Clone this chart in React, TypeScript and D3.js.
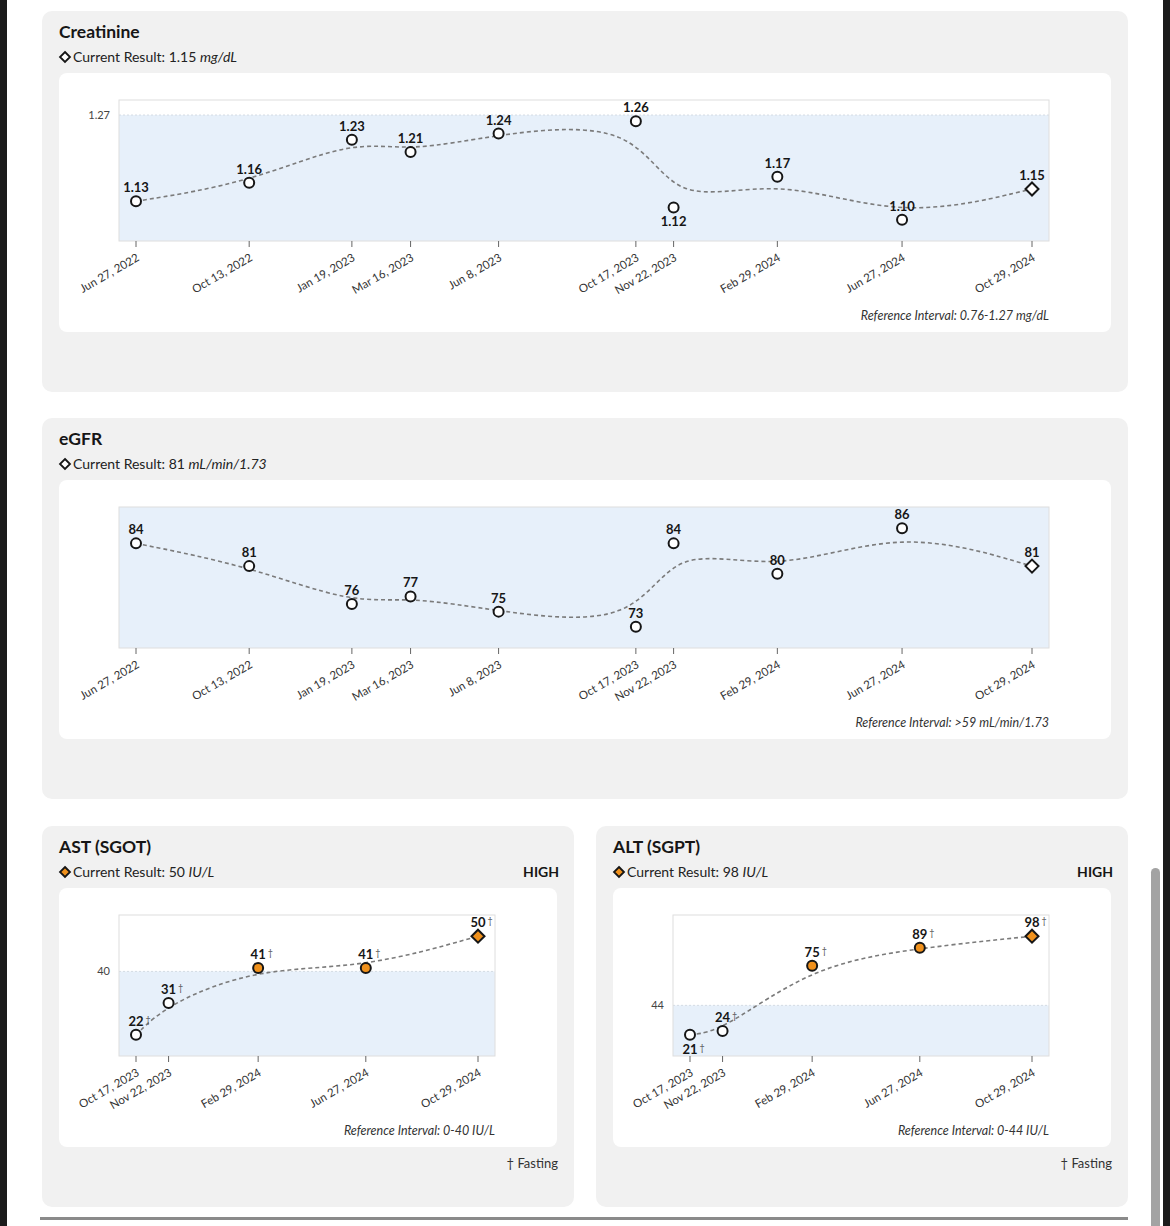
import { useRef, useEffect } from 'react'
import * as d3 from 'd3'

// lab history
const kidneyDates = ['2022-06-27', '2022-10-13', '2023-01-19', '2023-03-16', '2023-06-08', '2023-10-17', '2023-11-22', '2024-02-29', '2024-06-27', '2024-10-29']
const creatinineValues = [1.13, 1.16, 1.23, 1.21, 1.24, 1.26, 1.12, 1.17, 1.10, 1.15]
const egfrValues = [84, 81, 76, 77, 75, 73, 84, 80, 86, 81]

const liverDates = ['2023-10-17', '2023-11-22', '2024-02-29', '2024-06-27', '2024-10-29']
const astValues = [22, 31, 41, 41, 50]
const altValues = [21, 24, 75, 89, 98]

const FONT = 'Lato, "Noto Sans", sans-serif'
const ORANGE = '#f0911c'
const INK = '#161616'

const parseDate = d3.timeParse('%Y-%m-%d')
const tickFormat = d3.timeFormat('%b %-d, %Y')

const diamond = (r) => `M0,${-r}L${r},0L0,${r}L${-r},0Z`

function drawPanel(root, p) {
  const h = 381
  const g = root.append('g').attr('transform', `translate(${p.x},${p.y})`)
  g.append('rect').attr('width', p.w).attr('height', h).attr('rx', 10).attr('fill', '#f1f1f1')

  g.append('text').attr('x', 17).attr('y', 27)
    .attr('font-size', 17.5).attr('font-weight', 700).attr('fill', INK).text(p.title)

  const last = p.values[p.values.length - 1]
  const high = last > p.refHigh
  const fmt = (v) => v.toFixed(p.decimals)

  g.append('path').attr('d', diamond(5)).attr('transform', 'translate(23,46)')
    .attr('fill', high ? ORANGE : '#fff').attr('stroke', INK).attr('stroke-width', 1.8)

  const cur = g.append('text').attr('x', 31).attr('y', 51).attr('font-size', 14).attr('fill', '#222')
  cur.append('tspan').text(`Current Result: ${fmt(last)} `)
  cur.append('tspan').attr('font-style', 'italic').text(p.unit)

  if (high) {
    g.append('text').attr('x', p.w - 15).attr('y', 51).attr('text-anchor', 'end')
      .attr('font-size', 14).attr('font-weight', 700).attr('fill', INK).text('HIGH')
  }

  const card = g.append('g').attr('transform', 'translate(17,62)')
  const cw = p.w - 34
  card.append('rect').attr('width', cw).attr('height', 259).attr('rx', 8).attr('fill', '#fff')

  const left = 60
  const right = cw - 62
  const top = 27
  const bottom = 168

  const dates = p.dates.map(parseDate)
  const [lo, hi] = d3.extent(p.values)
  const pad = (hi - lo) * 0.215

  const xScale = d3.scaleTime().domain(d3.extent(dates)).range([left + 17, right - 17])
  const yScale = d3.scaleLinear().domain([lo - pad, hi + pad]).range([bottom, top])
  const [dMin, dMax] = yScale.domain()

  // reference band
  const bandTop = yScale(Math.min(p.refHigh, dMax))
  const bandBottom = yScale(Math.max(p.refLow, dMin))
  card.append('rect').attr('x', left).attr('y', top).attr('width', right - left).attr('height', bottom - top)
    .attr('fill', '#fff')
  card.append('rect').attr('x', left).attr('y', bandTop).attr('width', right - left).attr('height', bandBottom - bandTop)
    .attr('fill', '#e7f0fa')
  if (p.refHigh < dMax) {
    card.append('line').attr('x1', left).attr('x2', right).attr('y1', bandTop).attr('y2', bandTop)
      .attr('stroke', '#d4dbe3').attr('stroke-dasharray', '2,2')
    card.append('text').attr('x', left - 9).attr('y', bandTop).attr('dy', '0.35em').attr('text-anchor', 'end')
      .attr('font-size', 11).attr('fill', '#444').text(p.refHigh)
  }
  card.append('rect').attr('x', left).attr('y', top).attr('width', right - left).attr('height', bottom - top)
    .attr('fill', 'none').attr('stroke', '#dedede')

  // x axis: one tick per draw date
  const xAxis = card.append('g')
  dates.forEach((d) => {
    const x = xScale(d)
    xAxis.append('line').attr('x1', x).attr('x2', x).attr('y1', bottom).attr('y2', bottom + 6)
      .attr('stroke', '#666')
    xAxis.append('text').attr('transform', `translate(${x + 4},${bottom + 19}) rotate(-30)`)
      .attr('text-anchor', 'end').attr('font-size', 11.5).attr('fill', '#333').text(tickFormat(d))
  })

  const pts = dates.map((d, i) => [xScale(d), yScale(p.values[i])])

  const trend = d3.line().curve(d3.curveBasis)
  card.append('path').attr('d', trend(pts)).attr('fill', 'none')
    .attr('stroke', '#7b7b7b').attr('stroke-width', 1.6).attr('stroke-dasharray', '4,3')

  pts.forEach(([x, y], i) => {
    const fill = p.values[i] > p.refHigh ? ORANGE : '#fff'
    if (i === pts.length - 1) {
      card.append('path').attr('d', diamond(6.5)).attr('transform', `translate(${x},${y})`)
        .attr('fill', fill).attr('stroke', INK).attr('stroke-width', 2)
    } else {
      card.append('circle').attr('cx', x).attr('cy', y).attr('r', 5)
        .attr('fill', fill).attr('stroke', INK).attr('stroke-width', 2)
    }

    const below = (p.labelsBelow || []).includes(i)
    const ly = below ? y + 19 : y - 9
    const label = card.append('text').attr('x', x).attr('y', ly).attr('text-anchor', 'middle')
      .attr('font-size', 13).attr('font-weight', 700).attr('fill', INK).text(fmt(p.values[i]))
    if (p.fasting) {
      const w = label.node().getComputedTextLength()
      card.append('text').attr('x', x + w / 2 + 2).attr('y', ly - 3)
        .attr('font-size', 9).attr('fill', '#555').text('†')
    }
  })

  card.append('text').attr('x', right).attr('y', bottom + 79).attr('text-anchor', 'end')
    .attr('font-size', 12.5).attr('font-style', 'italic').attr('fill', '#333').text(p.refText)

  if (p.fasting) {
    g.append('text').attr('x', p.w - 16).attr('y', 342).attr('text-anchor', 'end')
      .attr('font-size', 13).attr('fill', '#333').text('† Fasting')
  }
}

export default function App() {
  const svgRef = useRef(null)

  useEffect(() => {
    const svg = d3.select(svgRef.current)
    svg.selectAll('*').remove()

    svg.append('rect').attr('width', 1170).attr('height', 1226).attr('fill', '#fff')

    const root = svg.append('g').attr('font-family', FONT)

    drawPanel(root, {
      x: 42, y: 11, w: 1086, title: 'Creatinine', unit: 'mg/dL',
      dates: kidneyDates, values: creatinineValues, refLow: 0.76, refHigh: 1.27,
      refText: 'Reference Interval: 0.76-1.27 mg/dL', decimals: 2, labelsBelow: [6],
    })
    drawPanel(root, {
      x: 42, y: 418, w: 1086, title: 'eGFR', unit: 'mL/min/1.73',
      dates: kidneyDates, values: egfrValues, refLow: 59, refHigh: Infinity,
      refText: 'Reference Interval: >59 mL/min/1.73', decimals: 0,
    })
    drawPanel(root, {
      x: 42, y: 826, w: 532, title: 'AST (SGOT)', unit: 'IU/L',
      dates: liverDates, values: astValues, refLow: 0, refHigh: 40,
      refText: 'Reference Interval: 0-40 IU/L', decimals: 0, fasting: true,
    })
    drawPanel(root, {
      x: 596, y: 826, w: 532, title: 'ALT (SGPT)', unit: 'IU/L',
      dates: liverDates, values: altValues, refLow: 0, refHigh: 44,
      refText: 'Reference Interval: 0-44 IU/L', decimals: 0, fasting: true, labelsBelow: [0],
    })

    // window chrome
    svg.append('rect').attr('x', 40).attr('y', 1217).attr('width', 1088).attr('height', 3).attr('fill', '#8a8a8a')
    svg.append('rect').attr('x', 0).attr('y', 0).attr('width', 7).attr('height', 1226).attr('fill', '#1b1b1b')
    svg.append('rect').attr('x', 1163).attr('y', 0).attr('width', 7).attr('height', 1226).attr('fill', '#1b1b1b')
    svg.append('rect').attr('x', 1151).attr('y', 868).attr('width', 9).attr('height', 380).attr('rx', 4.5).attr('fill', '#a3a3a3')
  }, [])

  return (
    <svg ref={svgRef} width={1170} height={1226} style={{ position: 'absolute', left: 0, top: 0, display: 'block' }} />
  )
}
